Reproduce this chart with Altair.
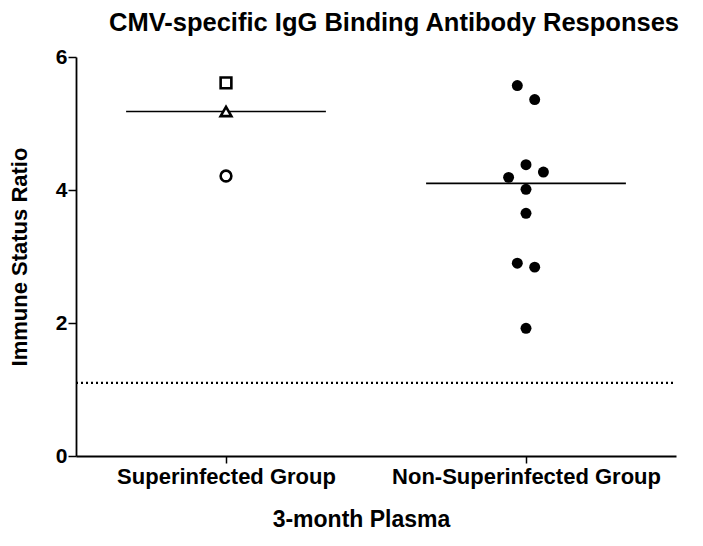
import altair as alt
import pandas as pd
import statistics

# ---- data ----
groups = ["Superinfected Group", "Non-Superinfected Group"]
super_values = [5.61, 5.18, 4.21]
super_shapes = ["square", "triangle-up", "circle"]
non_values = [5.57, 5.36, 4.38, 4.27, 4.19, 4.01, 3.65, 2.90, 2.84, 1.92]
non_jitter = [-1, 1, 0, 2, -2, 0, 0, -1, 1, 0]  # jitter steps within the column
threshold = 1.1

JIT = 0.029   # width of one jitter step (x units)
HALF = 0.333  # half width of the median line (x units)

super_df = pd.DataFrame({"x": [0] * len(super_values), "y": super_values, "shape": super_shapes})
non_df = pd.DataFrame({"x": [1 + j * JIT for j in non_jitter], "y": non_values})
med_df = pd.DataFrame({
    "x": [0 - HALF, 1 - HALF],
    "x2": [0 + HALF, 1 + HALF],
    "y": [statistics.median(super_values), statistics.median(non_values)],
})
thr_df = pd.DataFrame({"y": [threshold]})

FONT = "Liberation Sans"
label_expr = "datum.value == 0 ? '%s' : '%s'" % (groups[0], groups[1])

xscale = alt.Scale(domain=[-0.5, 1.5], nice=False, zero=False)
yscale = alt.Scale(domain=[0, 6], nice=False)

x_axis = alt.Axis(
    values=[0, 1], labelExpr=label_expr, grid=False, tickSize=7, tickWidth=1.5,
    tickColor="black", domainColor="black", domainWidth=1.8,
    labelFont=FONT, labelFontSize=22, labelFontWeight="bold", labelColor="black",
    labelPadding=3, labelLimit=0, labelOverlap=False,
    title="3-month Plasma", titleFont=FONT, titleFontSize=23,
    titleFontWeight="bold", titleColor="black", titlePadding=21, titleX=285,
)
y_axis = alt.Axis(
    values=[0, 2, 4, 6], grid=False, tickSize=8, tickWidth=1.5, tickColor="black",
    domainColor="black", domainWidth=1.8, labelFont=FONT, labelFontSize=21,
    labelFontWeight="bold", labelColor="black", labelPadding=1,
    title="Immune Status Ratio", titleFont=FONT, titleFontSize=22,
    titleFontWeight="bold", titleColor="black", titlePadding=24,
)

X = alt.X("x:Q", scale=xscale, axis=x_axis, title="3-month Plasma")
Y = alt.Y("y:Q", scale=yscale, axis=y_axis, title="Immune Status Ratio")

threshold_line = alt.Chart(thr_df).mark_rule(
    color="black", strokeWidth=2.2, strokeDash=[2, 3]
).encode(
    x=alt.value(0), x2=alt.value(598), y=Y,
)

median_lines = alt.Chart(med_df).mark_rule(color="black", strokeWidth=1.6).encode(
    x=X, x2="x2:Q", y=Y,
)

super_pts = alt.Chart(super_df).mark_point(
    filled=False, fill="white", stroke="black", strokeWidth=2.6, size=115, opacity=1
).encode(
    x=X, y=Y, shape=alt.Shape("shape:N", scale=None),
)

non_pts = alt.Chart(non_df).mark_circle(color="black", size=120, opacity=1).encode(
    x=X, y=Y,
)

chart = alt.layer(threshold_line, median_lines, super_pts, non_pts).properties(
    width=600, height=399,
    autosize=alt.AutoSizeParams(type="none"),
    padding={"left": 68, "top": 49, "right": 18, "bottom": 80},
    title=alt.TitleParams(
        "CMV-specific IgG Binding Antibody Responses", font=FONT, fontSize=25.5,
        fontWeight="bold", color="black", anchor="start", frame="group",
        dx=33, offset=10,
    ),
    background="white",
).configure_view(stroke=None)

chart.save("out.html", embed_options={"renderer": "svg", "actions": False})
